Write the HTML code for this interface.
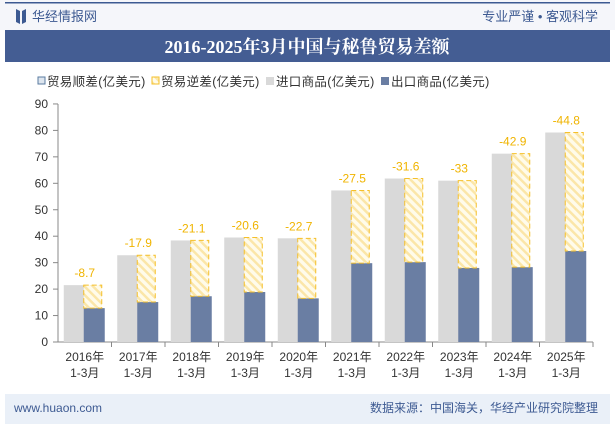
<!DOCTYPE html>
<html><head><meta charset="utf-8"><style>
body{margin:0;width:615px;height:427px;overflow:hidden;background:#fff;font-family:"Liberation Sans","Noto Sans CJK SC",sans-serif;}
</style></head><body>
<svg width="615" height="427" xmlns="http://www.w3.org/2000/svg">
<defs>
<pattern id="hatch" width="6" height="6" patternUnits="userSpaceOnUse" patternTransform="rotate(-45)">
<rect width="6" height="6" fill="#fffbea"/><rect width="2.5" height="6" fill="#fbe6a8"/></pattern>
</defs>
<rect x="0" y="0" width="615" height="427" fill="#fff"/>
<rect x="0" y="0" width="615" height="30" fill="#f5f6fa"/>
<rect x="5" y="2" width="605" height="1.5" fill="#3d5a92"/>
<path d="M16 9 L20 11 L20 24 L16 22 Z M22 11 L26 9 L26 22 L22 24 Z" fill="#3d5a92"/>
<text x="32" y="21" font-size="13" fill="#3d5a92">华经情报网</text>
<text x="598" y="21" font-size="13" fill="#3d5a92" text-anchor="end">专业严谨 • 客观科学</text>
<rect x="5" y="30" width="605" height="32" fill="#445d93"/>
<text x="307" y="53" font-size="18" font-weight="bold" fill="#fff" text-anchor="middle" font-family="'Liberation Serif','Noto Serif CJK SC',serif">2016-2025年3月中国与秘鲁贸易差额</text>
<g font-size="12.5" fill="#333">
<g><rect x="38" y="77" width="7" height="7" fill="#dde5ee" stroke="#5a7ba0"/><text x="47" y="86" letter-spacing="0.3">贸易顺差(亿美元)</text></g>
<g><rect x="152" y="77" width="7" height="7" fill="url(#hatch)" stroke="#f5c02a"/><text x="161" y="86" letter-spacing="0.3">贸易逆差(亿美元)</text></g>
<g><rect x="266" y="77" width="8" height="8" fill="#d9d9d9"/><text x="276" y="86" letter-spacing="0.3">进口商品(亿美元)</text></g>
<g><rect x="381" y="77" width="8" height="8" fill="#6a7ea3"/><text x="391" y="86" letter-spacing="0.3">出口商品(亿美元)</text></g>
</g>
<g id="plot"></g>
<rect x="5" y="394" width="605" height="30" fill="#eaf0f8"/>
<text x="14" y="412" font-size="12" fill="#3d5a92">www.huaon.com</text>
<text x="598" y="412" font-size="12" fill="#3d5a92" text-anchor="end">数据来源：中国海关，华经产业研究院整理</text>
</svg>
<script>
const categories=["2016年","2017年","2018年","2019年","2020年","2021年","2022年","2023年","2024年","2025年"];
const imports=[21.5,32.8,38.4,39.5,39.2,57.3,61.8,61.0,71.2,79.2];
const exports=[12.8,15.1,17.3,18.9,16.5,29.8,30.2,28.0,28.3,34.4];
const deficitLabels=["-8.7","-17.9","-21.1","-20.6","-22.7","-27.5","-31.6","-33","-42.9","-44.8"];
const yTicks=[0,10,20,30,40,50,60,70,80,90];
const NS="http://www.w3.org/2000/svg";
const g=document.getElementById('plot');
const x0=58,slot=53.5,y0=342,ppu=2.645;
const Y=v=>y0-v*ppu;
function mk(t,a){const e=document.createElementNS(NS,t);for(const k in a)e.setAttribute(k,a[k]);g.appendChild(e);return e;}
yTicks.forEach(v=>{
 const t=mk('text',{x:48,y:Y(v)+4,'font-size':12,fill:'#333','text-anchor':'end'});t.textContent=v;
 
 
 const l=mk('line',{x1:53,x2:58,y1:Y(v),y2:Y(v),stroke:'#888'});
 
 
});
const ax=mk('line',{x1:58,x2:58,y1:Y(90),y2:y0,stroke:'#888'});


const bx=mk('line',{x1:58,x2:x0+slot*categories.length,y1:y0,y2:y0,stroke:'#888'});


categories.forEach((c,i)=>{
 const cx=x0+slot*(i+0.5);
 const tk=mk('line',{x1:x0+slot*(i+1),x2:x0+slot*(i+1),y1:y0,y2:y0+5,stroke:'#888'});
 
 
 const ib=mk('rect',{x:cx-21,y:Y(imports[i]),width:21,height:imports[i]*ppu,fill:'#d9d9d9'});
 
 
 const eb=mk('rect',{x:cx-1,y:Y(exports[i]),width:21,height:exports[i]*ppu,fill:'#6a7ea3'});
 
 
 const db=mk('rect',{x:cx-1,y:Y(imports[i]),width:18,height:(imports[i]-exports[i])*ppu,fill:'url(#hatch)',stroke:'#f5c02a','stroke-dasharray':'5,3'});
 
 
 const dl=mk('text',{x:cx,y:Y(imports[i])-8,'font-size':12,fill:'#f0b400','text-anchor':'middle'});dl.textContent=deficitLabels[i];
 
 
 const t1=mk('text',{x:cx,y:361,'font-size':12,fill:'#333','text-anchor':'middle'});t1.textContent=c;
 
 
 const t2=mk('text',{x:cx,y:377,'font-size':12,fill:'#333','text-anchor':'middle'});t2.textContent='1-3月';
 
 
});
</script>
</body></html>
